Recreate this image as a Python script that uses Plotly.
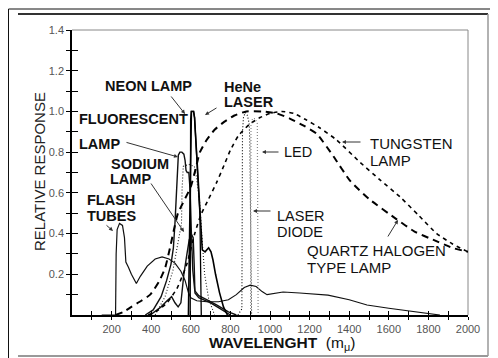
import plotly.graph_objects as go

# ---------------- data ----------------
flash_x = [150, 220, 223, 228, 240, 255, 265, 272, 285, 300, 325, 345, 380, 420, 455, 490, 520, 550, 571, 588,
           600, 630, 680, 740, 790, 830, 870, 900, 930, 960, 985, 1066, 1150, 1293, 1400, 1490, 1600, 1692, 1780, 1858]
flash_y = [0, 0, 0.3, 0.42, 0.45, 0.44, 0.38, 0.26, 0.235, 0.2, 0.155, 0.19, 0.24, 0.275, 0.285, 0.275, 0.255, 0.215, 0.17, 0.11,
           0.085, 0.07, 0.065, 0.065, 0.075, 0.1, 0.135, 0.147, 0.14, 0.115, 0.1, 0.113, 0.108, 0.098, 0.075, 0.049, 0.033, 0.02, 0.008, 0]

fluor_x = [370, 410, 450, 478, 500, 512, 520, 527, 532, 537, 545, 555, 565, 571, 576, 582, 590, 596, 603, 610, 620, 640, 680, 730, 790, 830]
fluor_y = [0, 0.025, 0.09, 0.17, 0.25, 0.33, 0.45, 0.62, 0.74, 0.785, 0.8, 0.8, 0.79, 0.76, 0.71, 0.70, 0.70, 0.62, 0.4, 0.22, 0.12, 0.095, 0.075, 0.05, 0.015, 0]

sodium_x = [395, 450, 480, 503, 520, 536, 550, 565, 579, 592, 604, 612, 617, 621, 640, 700, 750, 800]
sodium_y = [0, 0.04, 0.07, 0.09, 0.06, 0.04, 0.06, 0.2, 0.29, 0.37, 0.395, 0.38, 0.25, 0.108, 0.085, 0.06, 0.03, 0]

neon_x = [588, 594, 597, 599, 603, 614, 619, 623, 631, 640, 646, 652, 658, 672, 690, 702, 712, 725, 745, 765, 785]
neon_y = [0, 0.4, 0.8, 0.96, 1.0, 1.0, 0.97, 0.9, 0.76, 0.6, 0.49, 0.38, 0.32, 0.31, 0.33, 0.31, 0.27, 0.2, 0.11, 0.04, 0]

hene_x = [597, 599, 603, 614, 619, 623, 631, 640, 646, 650, 653]
hene_y = [0, 0.96, 1.0, 1.0, 0.97, 0.9, 0.76, 0.6, 0.49, 0.2, 0]

tung_x = [385, 430, 480, 530, 580, 620, 650, 690, 730, 770, 800, 840, 900, 950, 1000, 1060, 1120, 1180, 1250, 1336,
          1455, 1560, 1657, 1750, 1842, 1920, 2000]
tung_y = [0, 0.02, 0.06, 0.13, 0.25, 0.4, 0.49, 0.57, 0.65, 0.74, 0.81, 0.88, 0.94, 0.97, 0.99, 1.0, 0.99, 0.96, 0.92, 0.86,
          0.75, 0.66, 0.58, 0.49, 0.40, 0.35, 0.31]

quartz_x = [220, 260, 300, 350, 395, 440, 470, 495, 515, 535, 560, 600, 625, 646, 680, 720, 770, 820, 880, 960, 1035,
            1100, 1170, 1236, 1320, 1404, 1500, 1640, 1730, 1823, 1920, 2000]
quartz_y = [0, 0.015, 0.04, 0.07, 0.1, 0.165, 0.23, 0.33, 0.42, 0.5, 0.55, 0.63, 0.72, 0.8, 0.86, 0.91, 0.95, 0.98, 1.0, 1.0, 0.99,
            0.965, 0.93, 0.89, 0.78, 0.66, 0.57, 0.47, 0.41, 0.37, 0.33, 0.31]

led_x = [902, 904, 912, 925, 936, 940]
led_y = [0, 0.93, 0.965, 0.965, 0.94, 0]

diode_x = [838, 858, 861, 866, 875, 886, 895, 898, 907]
diode_y = [0, 0.03, 0.9, 0.97, 0.995, 0.98, 0.94, 0.85, 0]

other_x = [420, 470, 510, 540, 553, 556, 562, 590, 618, 628, 645, 655, 670, 690, 720]
other_y = [0, 0.09, 0.22, 0.38, 0.45, 0.62, 0.73, 0.74, 0.73, 0.68, 0.55, 0.4, 0.2, 0.08, 0]

x_tick_vals = list(range(100, 2001, 100))
x_tick_text = [str(v) if v % 200 == 0 else "" for v in x_tick_vals]
y_tick_vals = [0.1, 0.2, 0.3, 0.4, 0.5, 0.6, 0.7, 0.8, 0.9, 1.0, 1.1, 1.2, 1.3, 1.4]
y_tick_text = ["", "0.2", "", "0.4", "", "0.6", "", "0.8", "", "1.0", "", "1.2", "", "1.4"]

# ---------------- layout helpers (reference pixel -> paper) ----------------
OFF = 8                      # page body margin of the html page
W, H = 498 - OFF, 358 - OFF
ML, MR, MT, MB = 72 - OFF, 30, 30 - OFF, 43
PW, PH = W - ML - MR, H - MT - MB
FONT = "Liberation Sans, Arial, sans-serif"


def px(p):
    return (p - OFF - ML) / PW


def py(p):
    return (H - MB - (p - OFF)) / PH


fig = go.Figure()

series = [
    (flash_x, flash_y, dict(color="#111", width=1.2)),
    (other_x, other_y, dict(color="#222", width=1.1, dash="1px,2px")),
    (sodium_x, sodium_y, dict(color="#111", width=1.4)),
    (fluor_x, fluor_y, dict(color="#111", width=1.4)),
    (neon_x, neon_y, dict(color="#000", width=1.6)),
    (hene_x, hene_y, dict(color="#000", width=1.3)),
    (quartz_x, quartz_y, dict(color="#000", width=2.0, dash="7px,5px", shape="spline", smoothing=0.5)),
    (tung_x, tung_y, dict(color="#000", width=1.6, dash="4px,4px", shape="spline", smoothing=0.5)),
    (diode_x, diode_y, dict(color="#000", width=1.1, dash="1px,2px")),
    (led_x, led_y, dict(color="#888", width=1.2, dash="1px,2px")),
]
for xs, ys, ln in series:
    fig.add_trace(go.Scatter(x=xs, y=ys, mode="lines", line=ln, showlegend=False, hoverinfo="skip"))

# invisible trace for the overlay axes (inner tick halves)
fig.add_trace(go.Scatter(x=[0], y=[0], xaxis="x2", yaxis="y2", mode="markers",
                         marker=dict(opacity=0), showlegend=False, hoverinfo="skip"))

axis_common = dict(showgrid=False, zeroline=False, ticks="outside", tickcolor="#000", tickwidth=1)
fig.update_layout(
    width=W, height=H, autosize=False,
    margin=dict(l=ML, r=MR, t=MT, b=MB),
    paper_bgcolor="white", plot_bgcolor="white",
    xaxis=dict(range=[0, 2000], tickvals=x_tick_vals, ticktext=x_tick_text, ticklen=3,
               showline=True, linecolor="#000", linewidth=1.5,
               tickfont=dict(family=FONT, size=11, color="#555"), **axis_common),
    yaxis=dict(range=[0, 1.4], tickvals=y_tick_vals, ticktext=y_tick_text, ticklen=4,
               showline=True, linecolor="#000", linewidth=1.5,
               tickfont=dict(family=FONT, size=11, color="#555"), **axis_common),
    xaxis2=dict(range=[0, 2000], overlaying="x", tickvals=x_tick_vals, ticks="inside", ticklen=4,
                tickcolor="#000", showticklabels=False, showgrid=False, zeroline=False, showline=False),
    yaxis2=dict(range=[0, 1.4], overlaying="y", tickvals=y_tick_vals, ticks="inside", ticklen=6,
                tickcolor="#000", showticklabels=False, showgrid=False, zeroline=False, showline=False),
)

# frame lines
shapes = []


def seg(x0, y0, x1, y1, color, width):
    shapes.append(dict(type="line", xref="paper", yref="paper", x0=px(x0), y0=py(y0), x1=px(x1), y1=py(y1),
                       line=dict(color=color, width=width), layer="below"))


seg(72, 30, 468, 30, "#888", 1)
seg(468, 30, 468, 315, "#888", 1)
seg(8.5, 9, 497, 9, "#111", 1)
seg(8.5, 9, 8.5, 358, "#111", 1)
seg(497, 9, 497, 358, "#999", 1.5)
seg(18, 14, 488, 14, "#333", 2)
seg(488, 14, 488, 356, "#999", 1.5)
seg(18, 356, 488, 356, "#999", 2)
fig.update_layout(shapes=shapes)

ann = []


def label(text, left, cy, size=14.5, bold=True):
    t = f"<b>{text}</b>" if bold else text
    ann.append(dict(text=t, xref="paper", yref="paper", x=px(left), y=py(cy), xanchor="left", yanchor="middle",
                    showarrow=False, font=dict(family=FONT, size=size, color="#111")))


def arrow(tx, ty, hx, hy, head=2):
    ann.append(dict(text="", xref="paper", yref="paper", x=px(hx), y=py(hy), ax=tx - hx, ay=ty - hy,
                    showarrow=True, arrowhead=head, arrowsize=0.8, arrowwidth=1, arrowcolor="#333", standoff=0))


label("NEON LAMP", 103, 86)
label("HeNe", 222, 87)
label("LASER", 222, 102)
label("FLUORESCENT", 77, 119)
label("LAMP", 77, 144)
label("SODIUM", 109, 164)
label("LAMP", 108, 179)
label("FLASH", 85, 199.5)
label("TUBES", 85, 215.5)
label("TUNGSTEN", 368, 143.5, 15, False)
label("LAMP", 368, 160, 15, False)
label("LED", 282, 152, 14.5, False)
label("LASER", 275, 215.5, 14.5, False)
label("DIODE", 275, 232, 14.5, False)
label("QUARTZ HALOGEN", 305, 250.5, 15, False)
label("TYPE LAMP", 305, 267, 15, False)

arrow(170, 95, 185, 114)
arrow(218, 107, 205, 115)
arrow(125, 142, 178, 157)
arrow(150, 182, 184, 232)
arrow(105, 224, 113, 231)
arrow(362, 142, 342, 142)
arrow(280, 152, 262, 152)
arrow(272, 211, 253, 211)
arrow(387, 238, 398, 220)

# axis titles
ann.append(dict(text="RELATIVE RESPONSE", xref="paper", yref="paper", x=px(39), y=py(172), textangle=-90,
                xanchor="center", yanchor="middle", showarrow=False, font=dict(family=FONT, size=15, color="#222")))
ann.append(dict(text="<b>WAVELENGHT</b>\u00a0\u00a0(m<sub>\u03bc</sub>)", xref="paper", yref="paper", x=px(207), y=py(343),
                xanchor="left", yanchor="middle", showarrow=False, font=dict(family=FONT, size=15.5, color="#111")))
fig.update_layout(annotations=ann)

fig.write_html("out.html")
